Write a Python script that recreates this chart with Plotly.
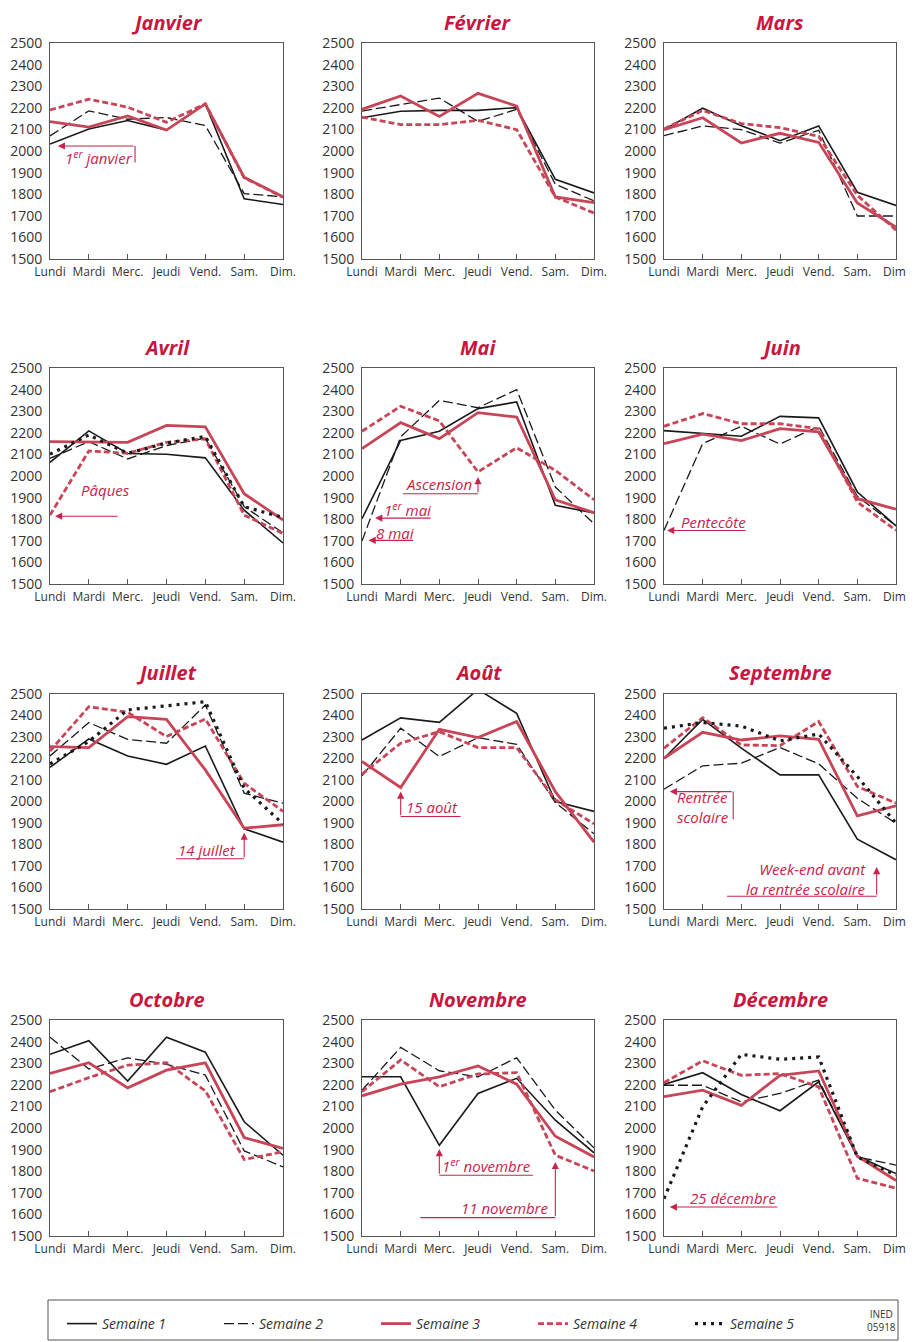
import plotly.graph_objects as go

# ---------------- data ----------------
JOURS = ["Lundi", "Mardi", "Merc.", "Jeudi", "Vend.", "Sam.", "Dim."]
SEMAINES = ["Semaine 1", "Semaine 2", "Semaine 3", "Semaine 4", "Semaine 5"]
MOIS = ["Janvier", "Février", "Mars", "Avril", "Mai", "Juin",
        "Juillet", "Août", "Septembre", "Octobre", "Novembre", "Décembre"]

janvier = {
    "Semaine 1": [2032, 2102, 2141, 2097, 2218, 1779, 1752],
    "Semaine 2": [2070, 2186, 2147, 2155, 2118, 1803, 1788],
    "Semaine 3": [2136, 2111, 2162, 2097, 2218, 1878, 1788],
    "Semaine 4": [2190, 2240, 2203, 2133, 2218, 1876, 1786],
}
fevrier = {
    "Semaine 1": [2154, 2184, 2188, 2188, 2201, 1869, 1806],
    "Semaine 2": [2185, 2216, 2245, 2137, 2193, 1846, 1769],
    "Semaine 3": [2193, 2255, 2160, 2267, 2208, 1787, 1761],
    "Semaine 4": [2157, 2122, 2122, 2142, 2099, 1787, 1713],
}
mars = {
    "Semaine 1": [2099, 2198, 2117, 2048, 2116, 1809, 1748],
    "Semaine 2": [2071, 2116, 2099, 2037, 2096, 1699, 1699],
    "Semaine 3": [2099, 2154, 2037, 2082, 2040, 1759, 1647],
    "Semaine 4": [2102, 2188, 2127, 2108, 2068, 1795, 1633],
}
avril = {
    "Semaine 1": [2063, 2209, 2104, 2101, 2084, 1842, 1690],
    "Semaine 2": [2082, 2159, 2079, 2141, 2175, 1858, 1737],
    "Semaine 3": [2159, 2156, 2156, 2234, 2228, 1918, 1796],
    "Semaine 4": [1819, 2116, 2105, 2156, 2172, 1819, 1734],
    "Semaine 5": [2101, 2190, 2105, 2152, 2183, 1858, 1808],
}
mai = {
    "Semaine 1": [1802, 2165, 2207, 2312, 2343, 1864, 1829],
    "Semaine 2": [1699, 2181, 2350, 2316, 2400, 1949, 1779],
    "Semaine 3": [2127, 2247, 2173, 2293, 2273, 1890, 1830],
    "Semaine 4": [2207, 2323, 2255, 2019, 2131, 2026, 1890],
}
juin = {
    "Semaine 1": [2210, 2198, 2184, 2276, 2269, 1926, 1769],
    "Semaine 2": [1748, 2150, 2230, 2148, 2230, 1906, 1769],
    "Semaine 3": [2150, 2194, 2164, 2219, 2204, 1895, 1846],
    "Semaine 4": [2230, 2289, 2242, 2242, 2219, 1880, 1748],
}
juillet = {
    "Semaine 1": [2159, 2291, 2212, 2173, 2258, 1873, 1811],
    "Semaine 2": [2212, 2367, 2289, 2271, 2449, 2039, 1992],
    "Semaine 3": [2255, 2251, 2395, 2382, 2147, 1876, 1892],
    "Semaine 4": [2235, 2441, 2415, 2302, 2384, 2085, 1954],
    "Semaine 5": [2175, 2279, 2426, 2444, 2464, 2062, 1896],
}
aout = {
    "Semaine 1": [2286, 2389, 2368, 2521, 2410, 2000, 1954],
    "Semaine 2": [2119, 2341, 2209, 2297, 2266, 1995, 1850],
    "Semaine 3": [2186, 2065, 2336, 2297, 2372, 2046, 1811],
    "Semaine 4": [2127, 2271, 2325, 2251, 2251, 2008, 1896],
}
septembre = {
    "Semaine 1": [2201, 2382, 2248, 2124, 2124, 1825, 1729],
    "Semaine 2": [2057, 2166, 2178, 2251, 2175, 2015, 1899],
    "Semaine 3": [2201, 2322, 2286, 2305, 2289, 1933, 1980],
    "Semaine 4": [2248, 2390, 2263, 2260, 2372, 2070, 1992],
    "Semaine 5": [2341, 2367, 2351, 2282, 2314, 2116, 1899],
}
octobre = {
    "Semaine 1": [2341, 2404, 2217, 2420, 2351, 2029, 1874],
    "Semaine 2": [2420, 2273, 2325, 2295, 2245, 1894, 1820],
    "Semaine 3": [2253, 2302, 2186, 2268, 2302, 1956, 1905],
    "Semaine 4": [2168, 2233, 2291, 2302, 2172, 1854, 1890],
}
novembre = {
    "Semaine 1": [2237, 2237, 1920, 2160, 2230, 2036, 1885],
    "Semaine 2": [2175, 2373, 2265, 2237, 2325, 2083, 1908],
    "Semaine 3": [2149, 2203, 2237, 2287, 2203, 1962, 1866],
    "Semaine 4": [2168, 2315, 2191, 2250, 2256, 1874, 1801],
}
decembre = {
    "Semaine 1": [2202, 2256, 2155, 2080, 2214, 1869, 1789],
    "Semaine 2": [2198, 2198, 2121, 2160, 2222, 1866, 1828],
    "Semaine 3": [2145, 2175, 2105, 2244, 2264, 1869, 1757],
    "Semaine 4": [2210, 2311, 2244, 2252, 2190, 1767, 1721],
    "Semaine 5": [1673, 2098, 2341, 2318, 2329, 1866, 1782],
}
DONNEES = [janvier, fevrier, mars, avril, mai, juin,
           juillet, aout, septembre, octobre, novembre, decembre]

Y_RANGE = [1500, 2500]

# ---------------- styles ----------------
FONT = "Open Sans"
BLACK = "#1a1a1a"
RED = "#c74557"
ANN = "#c8234d"
TITLE = "#c8173f"
AXC = "#555555"
TXT = "#333333"

STYLES = {
    "Semaine 1": dict(color=BLACK, width=1.6),
    "Semaine 2": dict(color=BLACK, width=1.3, dash="10px,4px"),
    "Semaine 3": dict(color=RED, width=2.8),
    "Semaine 4": dict(color=RED, width=2.8, dash="6px,3px"),
    "Semaine 5": dict(color=BLACK, width=3.2, dash="3px,5px"),
}

# page offset (default body margin of the html page)
OFF = 8
W, H = 914 - OFF, 1342 - OFF
COLS = [(50, 283), (362, 594), (664, 896)]
ROWS = [(43, 259), (368, 584), (694, 909), (1020, 1236)]
TITLE_TOP = [8, 333, 658, 985]


def px(x):
    return (x - OFF) / W


def py(y):
    return 1 - (y - OFF) / H


fig = go.Figure()
layout = {}
annotations = []
shapes = []
shown = set()

for i, (mois, data) in enumerate(zip(MOIS, DONNEES)):
    r, c = divmod(i, 3)
    n = i + 1
    xn = "x" if n == 1 else f"x{n}"
    yn = "y" if n == 1 else f"y{n}"
    x0, x1 = COLS[c]
    yt, yb = ROWS[r]
    for k, s in enumerate(SEMAINES):
        if s not in data:
            continue
        fig.add_trace(go.Scatter(
            x=JOURS, y=data[s], xaxis=xn, yaxis=yn, mode="lines",
            line=STYLES[s], name=s, showlegend=s not in shown,
            legendrank=k + 1, hoverinfo="skip"))
        shown.add(s)
    layout["xaxis" if n == 1 else f"xaxis{n}"] = dict(
        domain=[px(x0), px(x1)], anchor=yn, type="category",
        categoryorder="array", categoryarray=JOURS, range=[0, 6],
        showline=True, linecolor=AXC, linewidth=1, mirror=True,
        ticks="inside", ticklen=5, tickcolor=AXC, showgrid=False,
        zeroline=False, tickfont=dict(family=FONT, size=12, color=TXT),
        ticklabelstandoff=2, fixedrange=True, automargin=False)
    layout["yaxis" if n == 1 else f"yaxis{n}"] = dict(
        domain=[py(yb), py(yt)], anchor=xn, range=Y_RANGE, dtick=100,
        tick0=1500, showline=True, linecolor=AXC, linewidth=1, mirror=True,
        ticks="", showgrid=False, zeroline=False,
        tickfont=dict(family=FONT, size=14, color=TXT),
        ticklabelstandoff=4, fixedrange=True, automargin=False)
    layout[f"yaxis{n + 12}"] = dict(
        overlaying=yn, anchor=xn, side="right", range=Y_RANGE, dtick=100,
        tick0=1500, ticks="inside", ticklen=5, tickcolor=AXC,
        showticklabels=False, showline=False, showgrid=False,
        zeroline=False, fixedrange=True, automargin=False)
    annotations.append(dict(
        text=mois, xref="paper", yref="paper", x=px((x0 + x1) / 2),
        y=py(TITLE_TOP[r]), xanchor="center", yanchor="top", borderpad=0,
        showarrow=False,
        font=dict(family=FONT, size=20, color=TITLE, weight="bold",
                  style="italic")))

# ---------------- event annotations (panel index, ...) ----------------
TEXTS = [
    (0, "1<sup>er</sup> janvier", 1.26, 1972, "center"),
    (3, "Pâques", 1.44, 1935, "center"),
    (4, "Ascension", 1.98, 1965, "center"),
    (4, "1<sup>er</sup> mai", 1.17, 1846, "center"),
    (4, "8 mai", 0.86, 1738, "center"),
    (5, "Pentecôte", 1.27, 1787, "center"),
    (6, "14 juillet", 4.03, 1776, "center"),
    (7, "15 août", 1.82, 1976, "center"),
    (8, "Rentrée<br>scolaire", 0.28, 1976, "left"),
    (8, "Week-end avant<br>la rentrée scolaire", 5.27, 1638, "right"),
    (10, "1<sup>er</sup> novembre", 3.23, 1825, "center"),
    (10, "11 novembre", 3.71, 1631, "center"),
    (11, "25 décembre", 1.78, 1676, "center"),
]
ARROWS = [  # panel, tip x, tip y, tail x, tail y
    (0, 0.2, 2023, 2.19, 2023),
    (3, 0.13, 1814, 1.78, 1814),
    (4, 3.0, 1995, 3.0, 1918),
    (4, 0.34, 1805, 1.81, 1805),
    (4, 0.17, 1702, 1.36, 1702),
    (5, 0.08, 1748, 2.15, 1748),
    (6, 5.0, 1855, 5.0, 1734),
    (7, 1.0, 2046, 1.0, 1930),
    (8, 0.15, 2046, 1.79, 2046),
    (8, 5.5, 1695, 5.5, 1559),
    (10, 2.0, 1902, 2.0, 1781),
    (10, 5.0, 1843, 5.0, 1585),
    (11, 0.15, 1634, 2.97, 1634),
]
LINES = [  # panel, x0, y0, x1, y1
    (0, 2.19, 2023, 2.19, 1947),
    (4, 1.06, 1918, 3.0, 1918),
    (6, 3.25, 1734, 5.0, 1734),
    (7, 1.0, 1930, 2.55, 1930),
    (8, 1.79, 2046, 1.79, 1918),
    (8, 1.63, 1559, 5.5, 1559),
    (10, 2.0, 1781, 4.42, 1781),
    (10, 1.51, 1585, 5.0, 1585),
]


def refs(p):
    n = p + 1
    return ("x" if n == 1 else f"x{n}"), ("y" if n == 1 else f"y{n}")


for p, t, x, y, anchor in TEXTS:
    xr, yr = refs(p)
    annotations.append(dict(
        text=t, xref=xr, yref=yr, x=x, y=y, xanchor=anchor, yanchor="middle",
        align=anchor, showarrow=False,
        font=dict(family=FONT, size=15, color=ANN, style="italic")))
for p, tx, ty, ax, ay in ARROWS:
    xr, yr = refs(p)
    annotations.append(dict(
        text="", xref=xr, yref=yr, x=tx, y=ty, axref=xr, ayref=yr, ax=ax,
        ay=ay, showarrow=True, arrowhead=2, arrowsize=1.3, arrowwidth=1.1,
        arrowcolor=ANN, standoff=0, startstandoff=0))
for p, a, b, cc, d in LINES:
    xr, yr = refs(p)
    shapes.append(dict(type="line", xref=xr, yref=yr, x0=a, y0=b, x1=cc,
                       y1=d, line=dict(color=ANN, width=1.1)))

# legend box + INED mention
shapes.append(dict(type="rect", xref="paper", yref="paper", x0=px(48),
                   x1=px(898), y0=py(1340), y1=py(1300),
                   line=dict(color=AXC, width=1), fillcolor="rgba(0,0,0,0)"))
annotations.append(dict(
    text="INED<br>05918", xref="paper", yref="paper", x=px(881), y=py(1320),
    xanchor="center", yanchor="middle", showarrow=False,
    font=dict(family=FONT, size=10, color=TXT)))

fig.update_layout(
    **layout,
    width=W, height=H,
    margin=dict(l=0, r=0, t=0, b=0, pad=0, autoexpand=False),
    paper_bgcolor="white", plot_bgcolor="white",
    annotations=annotations, shapes=shapes,
    showlegend=True,
    legend=dict(orientation="h", x=px(62), y=py(1324), xanchor="left",
                yanchor="middle", entrywidth=112, itemwidth=30,
                bgcolor="rgba(0,0,0,0)",
                font=dict(family=FONT, size=14, color=TXT, style="italic")),
    font=dict(family=FONT),
)

fig.write_html("out.html")
